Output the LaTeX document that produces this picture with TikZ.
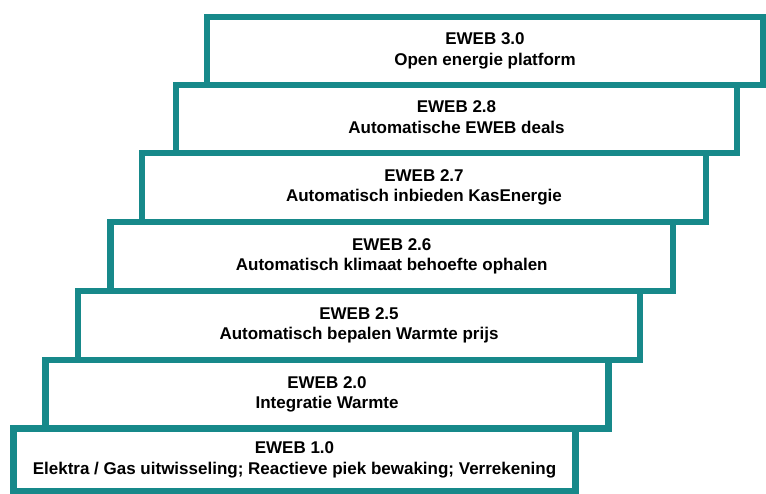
\documentclass[tikz,border=0pt]{standalone}
\usepackage{fontspec}
\setmainfont{Liberation Sans}
\definecolor{teal}{HTML}{17898A}
\tikzset{
  stairbox/.style={draw=teal, line width=6.5pt, fill=white, rectangle, inner sep=0pt, outer sep=0pt, align=center,
    font=\fontsize{17}{20.5}\selectfont\bfseries}
}
\newcommand{\stair}[6]{% name, left, right, top, bottom, text
  \node[stairbox, minimum width={#3-#2}, minimum height={#5-#4}] (#1) at ({(#2+#3)/2},{(#4+#5)/2}) {\raisebox{-2pt}{\begin{tabular}{@{}c@{}}#6\end{tabular}}};}
\begin{document}
\begin{tikzpicture}[x=1pt,y=-1pt]
\useasboundingbox[fill=white] (0,0) rectangle (766,494);
\stair{b10}{13.5}{575.5}{428.5}{491.5}{EWEB 1.0\\Elektra / Gas uitwisseling; Reactieve piek bewaking; Verrekening}
\stair{b20}{45.5}{608.5}{360}{428.5}{EWEB 2.0\\Integratie Warmte}
\stair{b25}{78}{640}{291}{360}{EWEB 2.5\\Automatisch bepalen Warmte prijs}
\stair{b26}{110.5}{673}{222}{291}{EWEB 2.6\\Automatisch klimaat behoefte ophalen}
\stair{b27}{142}{706}{153}{222}{EWEB 2.7\\Automatisch inbieden KasEnergie}
\stair{b28}{176}{737}{85}{153}{EWEB 2.8\\Automatische EWEB deals}
\stair{b30}{207}{763}{17}{85}{EWEB 3.0\\Open energie platform}
\end{tikzpicture}
\end{document}
